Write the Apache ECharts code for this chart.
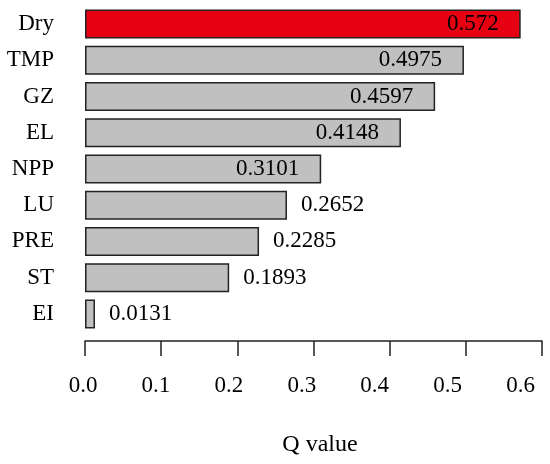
<!DOCTYPE html>
<html>
<head>
<meta charset="utf-8">
<script src="https://cdn.jsdelivr.net/npm/echarts@6/dist/echarts.min.js"></script>
<style>
  html, body { margin: 0; padding: 0; background: #fff; }
  #chart { width: 550px; height: 464px; }
</style>
</head>
<body>
<div id="chart"></div>
<script>
const factors = ["Dry", "TMP", "GZ", "EL", "NPP", "LU", "PRE", "ST", "EI"];
const qValues = [0.572, 0.4975, 0.4597, 0.4148, 0.3101, 0.2652, 0.2285, 0.1893, 0.0131];
const xTicks = [0, 0.1, 0.2, 0.3, 0.4, 0.5, 0.6];

const FONT = "Liberation Serif";
const chart = echarts.init(document.getElementById("chart"));

// long bars get their value inside, short ones beside the bar
const barData = qValues.map((v, i) => ({
  value: v,
  itemStyle: { color: i === 0 ? "#e60012" : "#c0c0c0" },
  label: v > 0.3
    ? { position: "insideRight", distance: 22 }
    : { position: "right", distance: 14 }
}));

// tick labels in the original sit a little left of their ticks, more so to the right
const tickRich = {};
xTicks.forEach((t, i) => {
  const shift = 2 + 3.25 * i;
  tickRich["t" + i] = {
    fontFamily: FONT,
    fontSize: 23,
    color: "#000",
    padding: [0, shift * 2, 0, 0]
  };
});

chart.setOption({
  animation: false,
  grid: {
    left: 85, right: 8, top: 6, bottom: 132,
    containLabel: false,
    outerBoundsMode: "none"
  },
  xAxis: {
    type: "value",
    min: xTicks[0],
    max: xTicks[xTicks.length - 1],
    interval: 0.1,
    offset: 9,
    name: "Q value",
    nameLocation: "middle",
    nameGap: 92,
    nameTextStyle: { fontFamily: FONT, fontSize: 24, color: "#000", padding: [0, 0, 0, 13] },
    axisLine: { show: true, lineStyle: { color: "#222", width: 1.5 } },
    axisTick: { show: true, length: 15, lineStyle: { color: "#222", width: 1.5 } },
    axisLabel: {
      margin: 33,
      fontFamily: FONT,
      fontSize: 23,
      color: "#000",
      formatter: (v) => {
        const i = Math.round(v * 10);
        return "{t" + i + "|" + v.toFixed(1) + "}";
      },
      rich: tickRich
    },
    splitLine: { show: false }
  },
  yAxis: {
    type: "category",
    data: factors,
    inverse: true,
    axisLine: { show: false },
    axisTick: { show: false },
    axisLabel: { margin: 31, fontFamily: FONT, fontSize: 23, color: "#000" }
  },
  series: [
    {
      type: "bar",
      data: barData,
      barWidth: 29,
      itemStyle: { borderColor: "#222", borderWidth: 1.5 },
      label: {
        show: true,
        fontFamily: FONT,
        fontSize: 23,
        color: "#000",
        formatter: (p) => String(p.value)
      }
    }
  ]
});
</script>
</body>
</html>
